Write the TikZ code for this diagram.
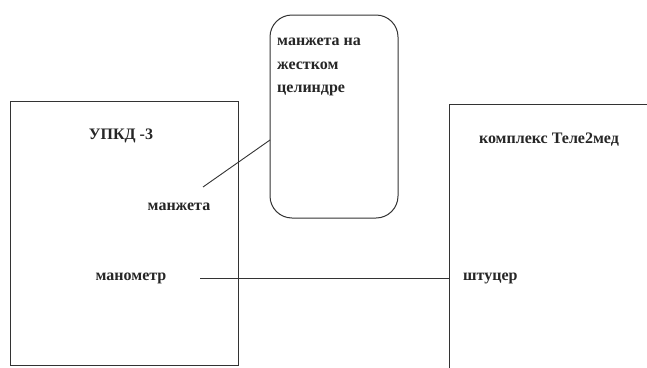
\documentclass[tikz,border=0pt]{standalone}
\usepackage{fontspec}
\setmainfont{Liberation Serif}
\begin{document}
\begin{tikzpicture}[x=1pt,y=-1pt,
  frame/.style={draw=black!80, line width=1pt, rectangle, inner sep=0pt},
  lbl/.style={font=\fontsize{16}{22}\selectfont\bfseries, text=black!85, inner sep=0pt},
  wire/.style={draw=black!80, line width=0.9pt}]
\useasboundingbox[fill=white] (0,0) rectangle (647,367);
\node[frame, minimum width=228pt, minimum height=264pt] (upkd) at (124,233) {};
\node[frame, minimum width=220pt, minimum height=290pt] (tele) at (559,249) {};
\node[frame, rounded corners=22pt, minimum width=128pt, minimum height=203pt] (cuff) at (334,116.5) {};
\node[lbl] (t1) at (121,136) {УПКД -3};
\node[lbl] (t2) at (179,207) {манжета};
\node[lbl] (t3) at (131,278) {манометр};
\node[lbl] (t4) at (549,140) {комплекс Теле2мед};
\node[lbl, anchor=west] (t5) at (463,278) {штуцер};
\node[lbl, anchor=north west, align=left, font=\fontsize{16}{23.5}\selectfont\bfseries] (t6) at (277,38) {манжета на\\жестком\\целиндре};
\coordinate (m1) at (203,187);
\coordinate (m2) at (270,140);
\coordinate (p1) at (200,278);
\draw[wire] (m1) -- (m2);
\draw[wire] (p1) -- (p1 -| tele.west);
\end{tikzpicture}
\end{document}
